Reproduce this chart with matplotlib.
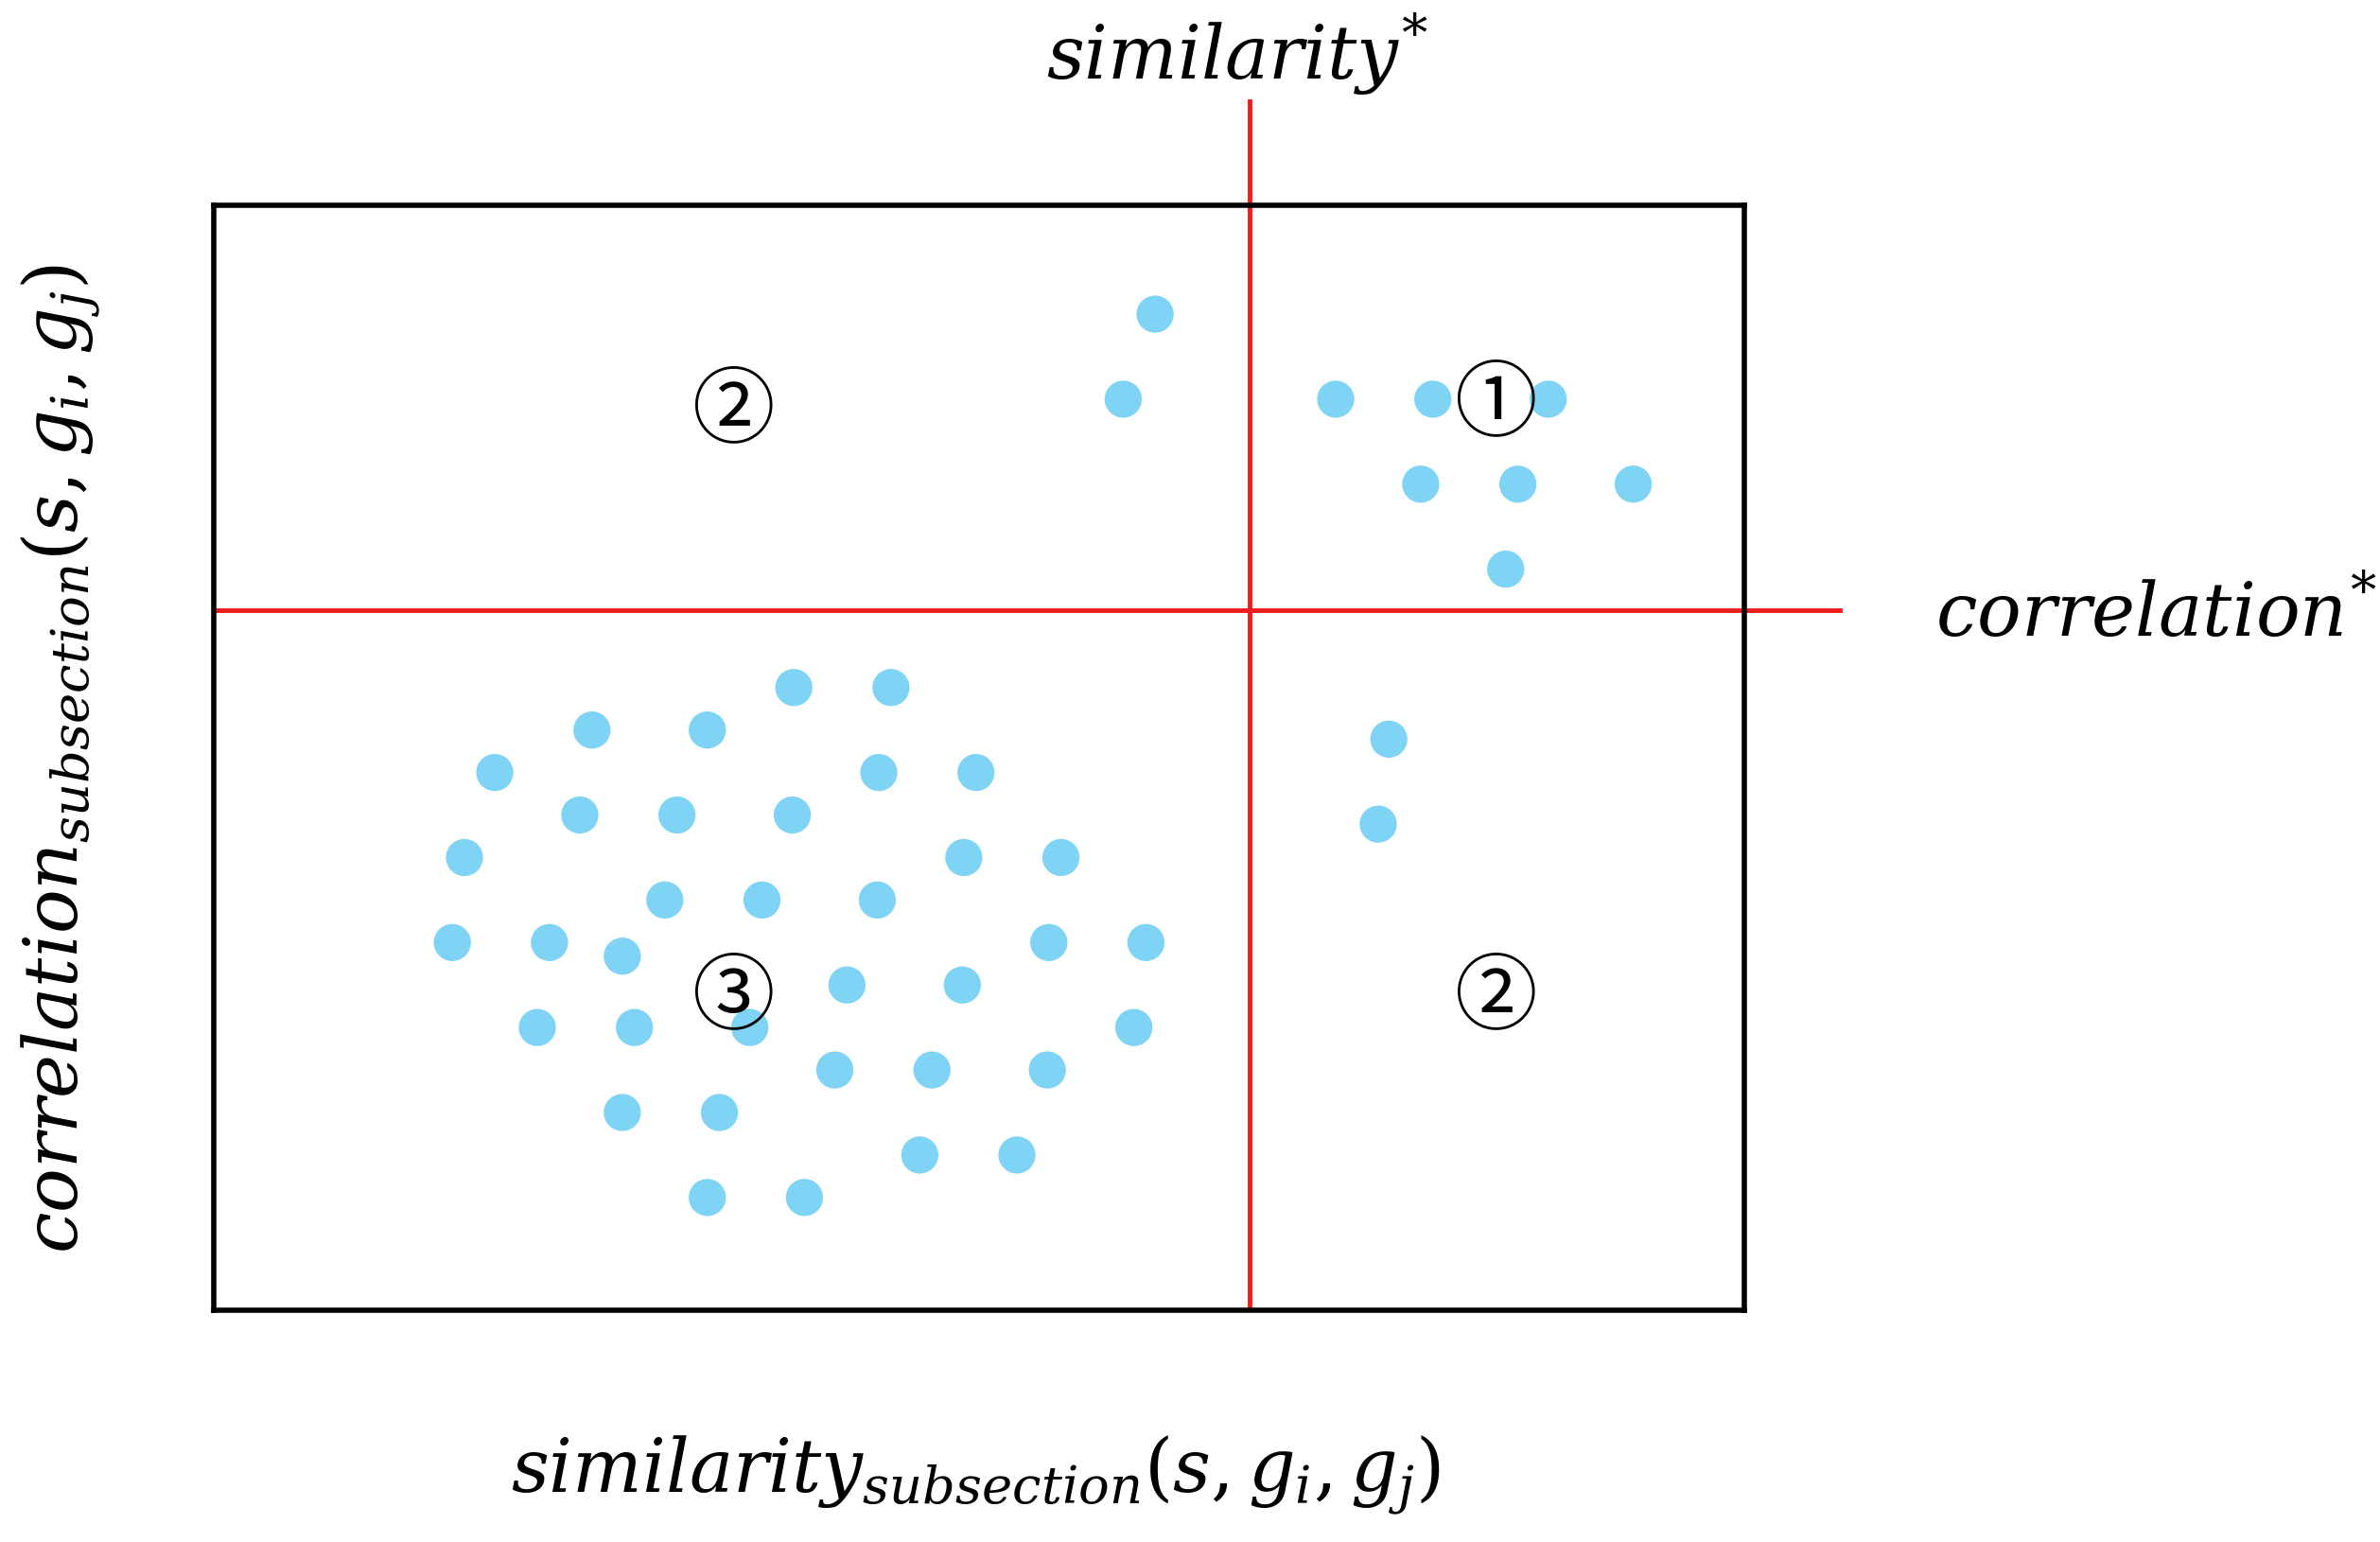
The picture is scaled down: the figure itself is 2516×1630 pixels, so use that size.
import matplotlib
matplotlib.use("Agg")
import matplotlib.pyplot as plt

plt.rcParams['mathtext.fontset'] = 'dejavuserif'

x_pts = [761,740,880,944,1020,936,1000,1076,992,915,908,
         523,587,390,466,326,579,643,382,446,522,306,635,699,438,502,578,
         298,362,410,691,755,558,634,354,418,494,747,550,614,690,410,474,
         606,670,466,530]
y_pts = [207,263,263,263,263,319,319,319,375,487,543,
         453,453,481,481,509,509,509,537,537,537,565,565,565,593,593,593,
         621,621,630,621,621,649,649,677,677,677,677,705,705,705,733,733,
         761,761,789,789]
region_labels = ['①', '②', '②', '③']
region_x = [985, 483, 985, 483]
region_y = [267, 271, 658, 658]
x_thr = 823
y_thr = 402

fig = plt.figure(figsize=(25.16, 16.30), dpi=100)
ax = fig.add_axes([141/1568, 1-863/1016, 1008/1568, 728/1016])
ax.set_xlim(141, 1149)
ax.set_ylim(863, 135)
ax.set_xticks([]); ax.set_yticks([])
for s in ax.spines.values():
    s.set_linewidth(4)

ax.scatter(x_pts, y_pts, s=800, color='#7fd4f6', edgecolors='none', zorder=3)
ax.plot([x_thr, x_thr], [67, 860], color='#ee1c1c', lw=3.5, clip_on=False, zorder=2)
ax.plot([141, 1212], [y_thr, y_thr], color='#ee1c1c', lw=3.5, clip_on=False, zorder=2)

for t, x, y in zip(region_labels, region_x, region_y):
    ax.text(x, y, t, ha='center', va='center', fontsize=63,
            family=['Noto Sans CJK KR', 'DejaVu Sans'], zorder=4)

fs = 56
ax.text(815, 35, r'$\mathit{similarity}^{*}$', ha='center', va='center', fontsize=fs, clip_on=False)
ax.text(1275, 405, r'$\mathit{correlation}^{*}$', ha='left', va='center', fontsize=fs, clip_on=False)
ax.text(643, 972, r'$\mathit{similarity}_{\mathit{subsection}}(s, g_i, g_j)$', ha='center', va='center', fontsize=fs, clip_on=False)
ax.text(40, 500, r'$\mathit{correlation}_{\mathit{subsection}}(s, g_i, g_j)$', ha='center', va='center',
        rotation=90, fontsize=fs, clip_on=False)

fig.savefig('out.png', dpi=100)
